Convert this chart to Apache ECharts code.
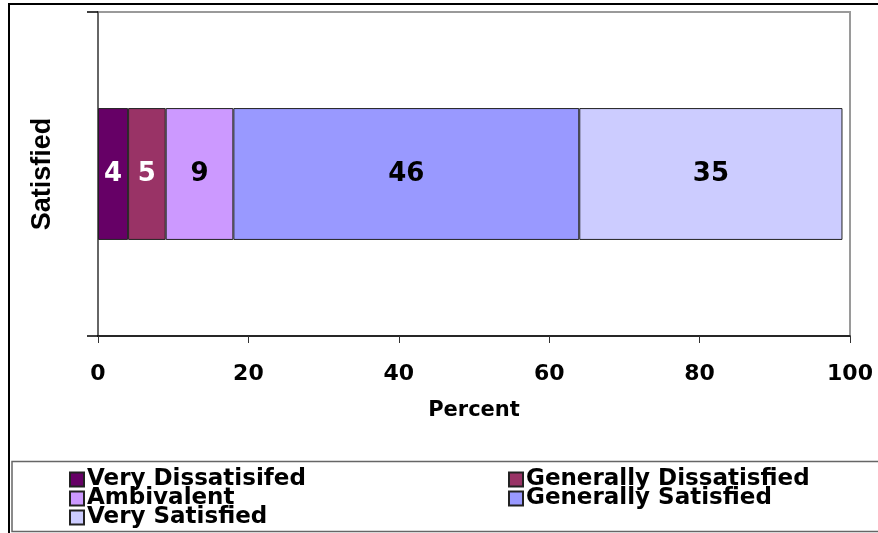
<!DOCTYPE html>
<html>
<head>
<meta charset="utf-8">
<script src="https://cdn.jsdelivr.net/npm/echarts@6/dist/echarts.min.js"></script>
<style>
  html, body { margin: 0; padding: 0; background: #fff; }
  #chart { width: 878px; height: 533px; }
</style>
</head>
<body>
<div id="chart"></div>
<script>
// Satisfaction breakdown, one stacked horizontal bar
const categories = ['Satisfied'];
const seriesNames = ['Very Dissatisifed', 'Generally Dissatisfied', 'Ambivalent', 'Generally Satisfied', 'Very Satisfied'];
const seriesValues = [4, 5, 9, 46, 35];
const xTicks = [0, 20, 40, 60, 80, 100];
const colors = ['#660066', '#993366', '#CC99FF', '#9999FF', '#CCCCFF'];
const labelColors = ['#ffffff', '#ffffff', '#000000', '#000000', '#000000'];

const legendLeftCol = [seriesNames[0], seriesNames[2], seriesNames[4]];
const legendRightCol = [seriesNames[1], seriesNames[3]];

const WIDE = 'DejaVu Sans';

const chart = echarts.init(document.getElementById('chart'));

const legendCommon = {
  orient: 'vertical',
  top: 468,
  height: 100,
  padding: 0,
  itemWidth: 14,
  itemHeight: 14,
  itemGap: -4,
  icon: 'rect',
  selectedMode: false,
  textStyle: { fontFamily: WIDE, fontWeight: 'bold', fontSize: 23, color: '#000', padding: [0, 0, 0, -2] }
};

chart.setOption({
  animation: false,
  backgroundColor: '#fff',
  color: colors,
  grid: {
    left: 98, top: 12, right: 28, bottom: 197,
    show: true, borderColor: '#9a9a9a', borderWidth: 2, backgroundColor: '#fff'
  },
  xAxis: {
    type: 'value',
    min: xTicks[0],
    max: xTicks[xTicks.length - 1],
    interval: xTicks[1] - xTicks[0],
    name: 'Percent',
    nameLocation: 'middle',
    nameGap: 64,
    nameTextStyle: { fontFamily: WIDE, fontWeight: 'bold', fontSize: 21, color: '#000' },
    axisLine: { show: true, lineStyle: { color: '#000', width: 1.5 } },
    axisTick: { show: true, length: 7, lineStyle: { color: '#333', width: 1 } },
    axisLabel: { fontFamily: WIDE, fontWeight: 'bold', fontSize: 22, color: '#000', margin: 27 },
    splitLine: { show: false }
  },
  yAxis: {
    type: 'category',
    data: categories,
    axisLine: { show: true, lineStyle: { color: '#555', width: 1.5 } },
    axisTick: { show: true, length: 11, lineStyle: { color: '#000', width: 1.5 } },
    axisLabel: {
      rotate: 90, margin: 42,
      fontFamily: 'Liberation Sans', fontWeight: 'bold', fontSize: 27, color: '#000'
    }
  },
  legend: [
    Object.assign({}, legendCommon, { left: 69, data: legendLeftCol }),
    Object.assign({}, legendCommon, { left: 508, data: legendRightCol })
  ],
  graphic: [
    {
      type: 'rect', silent: true, z: -1,
      shape: { x: 9, y: 4, width: 900, height: 560 },
      style: { fill: 'none', stroke: '#000', lineWidth: 2 }
    },
    {
      type: 'rect', silent: true, z: -1,
      shape: { x: 12, y: 461.5, width: 900, height: 70 },
      style: { fill: 'none', stroke: '#666', lineWidth: 1.5 }
    }
  ],
  series: seriesNames.map((name, i) => ({
    name: name,
    type: 'bar',
    stack: 'total',
    barWidth: '40.7%',
    data: [seriesValues[i]],
    itemStyle: { color: colors[i], borderColor: '#222', borderWidth: 1 },
    label: {
      show: true,
      position: 'inside',
      fontFamily: WIDE,
      fontWeight: 'bold',
      fontSize: 26,
      color: labelColors[i]
    }
  }))
});
</script>
</body>
</html>
